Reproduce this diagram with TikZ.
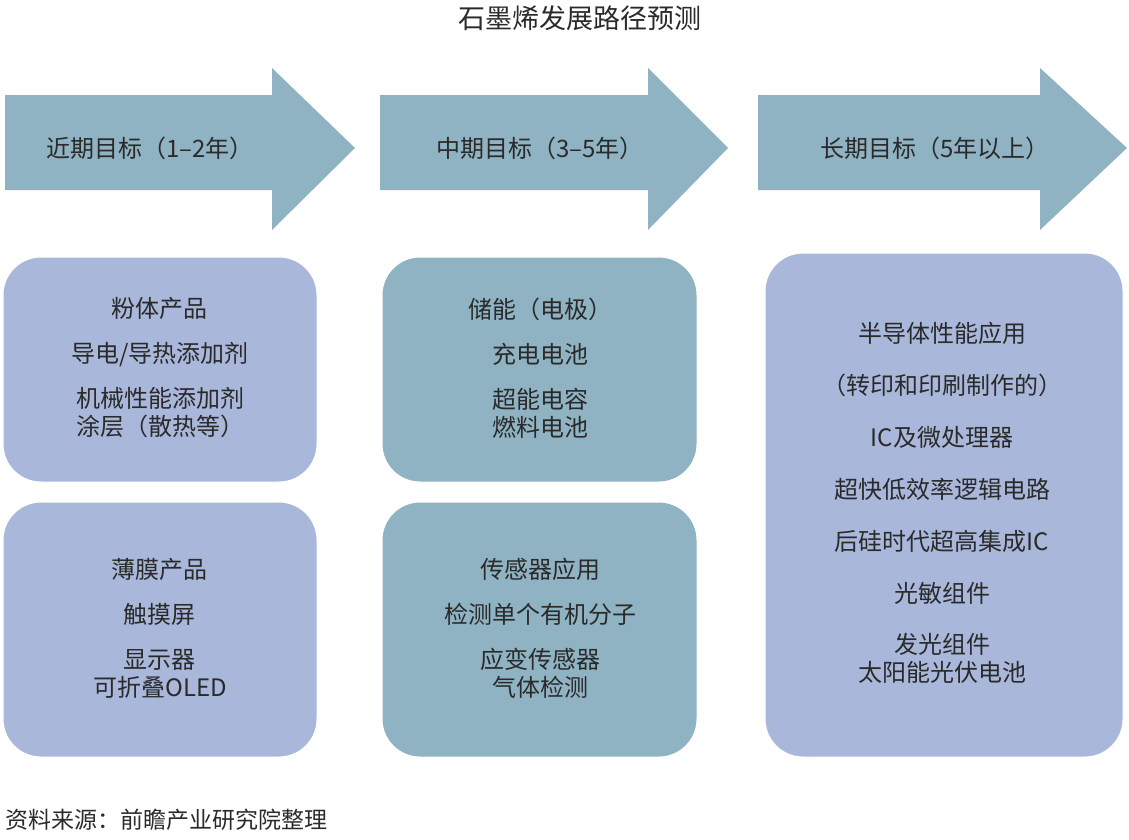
\documentclass[tikz,border=0pt]{standalone}
\usepackage{fontspec}
\setmainfont{Noto Sans CJK SC}
\begin{document}
\begin{tikzpicture}[x=1pt,y=-1pt,
  arrowc/.style={fill=arrowfill,draw=none},
  boxA/.style={fill=lav,draw=white,line width=1pt,rounded corners=38pt},
  boxB/.style={fill=teal1,draw=white,line width=1pt,rounded corners=38pt},
  lbl/.style={font=\fontsize{24}{28}\selectfont,text=txt,anchor=center},
  items/.style={font=\fontsize{24}{28}\selectfont,text=txt,align=center,anchor=center}]
\definecolor{arrowfill}{HTML}{8FB3C3}
\definecolor{lav}{HTML}{A9B8DA}
\definecolor{teal1}{HTML}{8FB3C3}
\definecolor{txt}{HTML}{2A2A2A}
\useasboundingbox (0,0) rectangle (1129,839);
\node[font=\fontsize{27}{30}\selectfont,text=txt] (title) at (580,18) {石墨烯发展路径预测};
\foreach \a/\b/\c/\n in {5/272/355/a1,380/648/728/a2,758/1040/1127/a3}{
  \fill[arrowc] (\a,95) -- (\b,95) -- (\b,68) -- (\c,148) -- (\b,230) -- (\b,190) -- (\a,190) -- cycle;
}
\node[lbl] (t1) at (150,148) {近期目标（1–2年）};
\node[lbl] (t2) at (540,148) {中期目标（3–5年）};
\node[lbl] (t3) at (935,148) {长期目标（5年以上）};
\draw[boxA] (3,257) rectangle (317,482);
\draw[boxA] (3,502) rectangle (317,757);
\draw[boxB] (382,257) rectangle (697,482);
\draw[boxB] (382,502) rectangle (697,757);
\draw[boxA] (765,253) rectangle (1123,757);
\node[items,text width=310pt] (b1) at (160,368) {\baselineskip=45pt 粉体产品\\导电/导热添加剂\\机械性能添加剂\\涂层（散热等）};
\node[items,text width=310pt] (b2) at (160,628) {\baselineskip=45pt 薄膜产品\\触摸屏\\显示器\\可折叠OLED};
\node[items,text width=310pt] (b3) at (540,368) {\baselineskip=45pt 储能（电极）\\充电电池\\超能电容\\燃料电池};
\node[items,text width=310pt] (b4) at (540,628) {\baselineskip=45pt 传感器应用\\检测单个有机分子\\应变传感器\\气体检测};
\node[items,text width=350pt] (b5) at (942,503) {\baselineskip=51.9pt 半导体性能应用\\（转印和印刷制作的）\\IC及微处理器\\超快低效率逻辑电路\\后硅时代超高集成IC\\光敏组件\\发光组件\\太阳能光伏电池};
\node[font=\fontsize{23}{26}\selectfont,text=txt,anchor=west] (src) at (2,820) {资料来源：前瞻产业研究院整理};
\end{tikzpicture}
\end{document}
